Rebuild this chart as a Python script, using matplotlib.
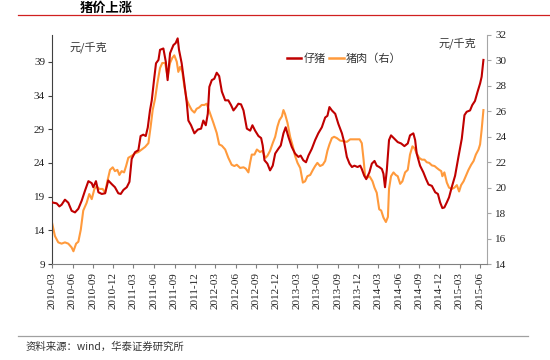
import matplotlib
matplotlib.use("Agg")
import matplotlib.pyplot as plt
import matplotlib.dates as mdates
from matplotlib.lines import Line2D
import pandas as pd

plt.rcParams['font.family'] = ['Liberation Serif', 'Noto Sans CJK SC', 'DejaVu Sans']
CJK = ['Noto Sans CJK SC', 'DejaVu Sans']

title = "猪价上涨"
source = "资料来源：wind，华泰证券研究所"
unit = "元/千克"
piglet_name = "仔猪"
pork_name = "猪肉（右）"

piglet_dates = [
    "2010-03-01", "2010-03-22", "2010-04-03", "2010-04-13", "2010-04-28", "2010-05-13", "2010-05-28",
    "2010-06-12", "2010-06-27", "2010-07-12", "2010-07-27", "2010-08-11", "2010-08-26", "2010-09-02",
    "2010-09-14", "2010-09-25", "2010-10-10", "2010-10-25", "2010-11-08", "2010-11-24", "2010-12-08",
    "2010-12-23", "2011-01-03", "2011-01-15", "2011-01-30", "2011-02-11", "2011-02-21", "2011-03-08",
    "2011-03-23", "2011-04-02", "2011-04-14", "2011-04-25", "2011-05-04", "2011-05-14", "2011-05-22",
    "2011-06-01", "2011-06-10", "2011-06-21", "2011-06-28", "2011-07-13", "2011-07-24", "2011-08-01",
    "2011-08-12", "2011-08-27", "2011-09-06", "2011-09-15", "2011-09-21", "2011-10-03", "2011-10-15",
    "2011-10-26", "2011-11-02", "2011-11-14", "2011-11-29", "2011-12-14", "2011-12-29", "2012-01-08",
    "2012-01-19", "2012-01-28", "2012-02-04", "2012-02-15", "2012-02-26", "2012-03-08", "2012-03-19",
    "2012-03-31", "2012-04-15", "2012-04-29", "2012-05-11", "2012-05-22", "2012-06-03", "2012-06-13",
    "2012-06-25", "2012-07-06", "2012-07-21", "2012-08-05", "2012-08-15", "2012-08-27", "2012-09-11",
    "2012-09-23", "2012-09-30", "2012-10-08", "2012-10-21", "2012-11-02", "2012-11-14", "2012-11-25",
    "2012-12-09", "2012-12-20", "2013-01-01", "2013-01-11", "2013-01-23", "2013-02-07", "2013-02-22",
    "2013-03-09", "2013-03-19", "2013-03-31", "2013-04-12", "2013-04-23", "2013-05-08", "2013-05-23",
    "2013-06-06", "2013-06-22", "2013-07-07", "2013-07-17", "2013-07-26", "2013-08-06", "2013-08-21",
    "2013-09-04", "2013-09-20", "2013-09-30", "2013-10-12", "2013-10-24", "2013-11-04", "2013-11-15",
    "2013-11-29", "2013-12-11", "2013-12-18", "2013-12-29", "2014-01-07", "2014-01-21", "2014-02-01",
    "2014-02-13", "2014-02-23", "2014-03-06", "2014-03-18", "2014-03-25", "2014-04-01", "2014-04-09",
    "2014-04-19", "2014-04-28", "2014-05-13", "2014-05-28", "2014-06-12", "2014-06-27", "2014-07-12",
    "2014-07-22", "2014-08-06", "2014-08-14", "2014-08-21", "2014-09-05", "2014-09-20", "2014-10-02",
    "2014-10-13", "2014-10-28", "2014-11-12", "2014-11-24", "2014-12-04", "2014-12-14", "2014-12-23",
    "2015-01-03", "2015-01-13", "2015-01-25", "2015-02-09", "2015-02-24", "2015-03-11", "2015-03-23",
    "2015-04-02", "2015-04-17", "2015-04-27", "2015-05-09", "2015-05-21", "2015-06-01", "2015-06-08",
    "2015-06-16",
]
piglet_values = [
    18.15, 18.0, 17.55, 17.8, 18.55, 18.1, 16.9,
    16.66, 17.2, 18.4, 19.9, 21.3, 21.0, 20.4,
    21.3, 19.65, 19.4, 19.5, 21.4, 20.85, 20.4,
    19.5, 19.4, 20.0, 20.4, 21.2, 24.6, 25.6,
    25.9, 28.0, 28.2, 28.0, 29.25, 31.8, 33.3,
    36.3, 38.8, 39.3, 40.8, 41.0, 39.0, 36.3,
    40.3, 41.5, 41.8, 42.5, 40.8, 38.8, 35.8,
    32.9, 30.3, 29.6, 28.4, 28.95, 29.1, 30.3,
    29.6, 31.3, 35.3, 36.3, 36.5, 37.4, 36.9,
    34.6, 33.3, 33.3, 32.6, 31.8, 32.3, 32.8,
    32.7, 31.8, 29.1, 28.8, 29.6, 28.8, 28.0,
    27.7, 26.6, 24.4, 23.9, 22.9, 23.6, 25.4,
    26.1, 26.6, 28.4, 29.3, 27.9, 26.4, 25.4,
    24.9, 25.1, 24.4, 24.1, 25.1, 26.1, 27.4,
    28.4, 29.3, 30.75, 31.0, 32.3, 31.8, 31.3,
    29.8, 28.4, 27.1, 24.9, 23.9, 23.4, 23.6,
    23.4, 23.6, 23.1, 22.1, 21.6, 22.6, 23.9,
    24.3, 23.6, 23.4, 23.1, 22.4, 20.4, 22.9,
    27.4, 28.1, 27.6, 27.1, 26.9, 26.5, 26.9,
    28.1, 28.4, 27.4, 25.4, 23.6, 22.6, 21.6,
    20.8, 20.6, 19.65, 19.4, 18.15, 17.3, 17.4,
    18.15, 18.9, 20.4, 22.1, 24.9, 27.6, 31.1,
    31.6, 31.8, 32.6, 33.2, 34.6, 35.8, 36.8,
    39.3,
]

pork_dates = [
    "2010-03-01", "2010-03-14", "2010-03-29", "2010-04-13", "2010-04-28", "2010-05-13", "2010-05-28",
    "2010-06-05", "2010-06-17", "2010-06-27", "2010-07-08", "2010-07-19", "2010-08-03", "2010-08-15",
    "2010-08-26", "2010-09-07", "2010-09-17", "2010-09-29", "2010-10-14", "2010-10-25", "2010-11-04",
    "2010-11-16", "2010-11-28", "2010-12-08", "2010-12-19", "2010-12-28", "2011-01-07", "2011-01-18",
    "2011-01-27", "2011-02-06", "2011-02-21", "2011-03-08", "2011-03-23", "2011-04-07", "2011-04-22",
    "2011-05-07", "2011-05-17", "2011-05-26", "2011-06-06", "2011-06-16", "2011-06-28", "2011-07-08",
    "2011-07-21", "2011-08-01", "2011-08-12", "2011-08-22", "2011-08-31", "2011-09-11", "2011-09-18",
    "2011-09-26", "2011-10-06", "2011-10-15", "2011-10-26", "2011-11-05", "2011-11-17", "2011-11-29",
    "2011-12-09", "2011-12-20", "2012-01-01", "2012-01-13", "2012-01-23", "2012-01-31", "2012-02-12",
    "2012-02-22", "2012-03-08", "2012-03-19", "2012-03-31", "2012-04-15", "2012-04-29", "2012-05-14",
    "2012-05-26", "2012-06-06", "2012-06-21", "2012-07-06", "2012-07-16", "2012-07-28", "2012-08-05",
    "2012-08-12", "2012-08-24", "2012-09-04", "2012-09-18", "2012-09-29", "2012-10-08", "2012-10-13",
    "2012-10-21", "2012-11-02", "2012-11-14", "2012-11-25", "2012-12-05", "2012-12-14", "2012-12-25",
    "2013-01-01", "2013-01-08", "2013-01-19", "2013-01-31", "2013-02-12", "2013-02-22", "2013-03-05",
    "2013-03-17", "2013-03-29", "2013-04-08", "2013-04-18", "2013-05-01", "2013-05-13", "2013-05-23",
    "2013-06-02", "2013-06-14", "2013-06-26", "2013-07-07", "2013-07-17", "2013-07-26", "2013-08-06",
    "2013-08-16", "2013-08-28", "2013-09-12", "2013-09-27", "2013-10-12", "2013-10-27", "2013-11-11",
    "2013-11-26", "2013-12-08", "2013-12-18", "2013-12-26", "2014-01-02", "2014-01-13", "2014-01-21",
    "2014-01-25", "2014-02-04", "2014-02-13", "2014-02-23", "2014-03-06", "2014-03-15", "2014-03-25",
    "2014-04-05", "2014-04-14", "2014-04-19", "2014-04-28", "2014-05-09", "2014-05-19", "2014-05-28",
    "2014-06-08", "2014-06-18", "2014-06-30", "2014-07-12", "2014-07-22", "2014-08-02", "2014-08-11",
    "2014-08-21", "2014-09-01", "2014-09-13", "2014-09-25", "2014-10-05", "2014-10-16", "2014-10-28",
    "2014-11-09", "2014-11-19", "2014-11-30", "2014-12-09", "2014-12-14", "2014-12-23", "2015-01-03",
    "2015-01-13", "2015-01-25", "2015-02-06", "2015-02-17", "2015-02-27", "2015-03-08", "2015-03-19",
    "2015-03-29", "2015-04-10", "2015-04-22", "2015-05-03", "2015-05-13", "2015-05-25", "2015-06-01",
    "2015-06-08", "2015-06-16",
]
pork_values = [
    17.26, 16.2, 15.7, 15.6, 15.7, 15.6, 15.3,
    15.0, 15.6, 15.75, 16.7, 18.2, 18.8, 19.5,
    19.1, 19.9, 20.1, 19.9, 19.9, 19.6, 20.5,
    21.4, 21.6, 21.3, 21.4, 21.0, 21.3, 21.2,
    21.7, 22.35, 22.5, 22.7, 22.8, 23.0, 23.2,
    23.5, 24.8, 26.1, 27.0, 28.2, 29.4, 29.8,
    29.8, 28.7, 29.8, 30.2, 30.4, 29.9, 29.1,
    29.5, 29.1, 27.95, 26.9, 26.5, 26.1, 25.9,
    26.2, 26.3, 26.5, 26.5, 26.6, 26.2, 25.6,
    25.1, 24.3, 23.4, 23.3, 23.0, 22.35, 21.8,
    21.7, 21.8, 21.55, 21.6, 21.5, 21.2, 22.0,
    22.6, 22.6, 23.0, 22.8, 22.9, 22.5, 22.35,
    22.5, 22.9, 23.5, 24.0, 24.8, 25.3, 25.6,
    26.1, 25.8, 25.1, 24.0, 23.25, 22.5, 21.95,
    21.55, 20.4, 20.5, 20.9, 21.0, 21.4, 21.7,
    21.95, 21.7, 21.8, 22.1, 22.9, 23.4, 23.9,
    24.0, 23.9, 23.7, 23.65, 23.6, 23.8, 23.8,
    23.8, 23.8, 23.5, 22.2, 20.9, 20.8, 20.9,
    20.8, 20.5, 20.0, 19.6, 18.3, 18.2, 17.65,
    17.3, 17.7, 19.9, 20.9, 21.2, 21.0, 20.9,
    20.3, 20.5, 21.2, 21.4, 22.6, 23.25, 23.1,
    22.7, 22.35, 22.2, 22.2, 22.0, 21.95, 21.75,
    21.7, 21.55, 21.4, 21.3, 20.9, 21.2, 20.4,
    20.0, 19.9, 20.0, 20.2, 19.7, 20.2, 20.5,
    20.9, 21.4, 21.8, 22.1, 22.6, 23.0, 23.4,
    24.55, 26.1,
]

left_ticks = [9, 14, 19, 24, 29, 34, 39]
right_ticks = [14, 16, 18, 20, 22, 24, 26, 28, 30, 32]

RED = '#C00000'
ORANGE = '#FF9A3C'

fig = plt.figure(figsize=(5.5, 3.6), dpi=100)
ax = fig.add_axes([52/550, 1-264/360, (487-52)/550, (264-35)/360])
ax2 = ax.twinx()

pd_p = pd.to_datetime(piglet_dates)
pd_k = pd.to_datetime(pork_dates)
ax.plot(pd_p, piglet_values, color=RED, lw=1.5, zorder=3)
ax2.plot(pd_k, pork_values, color=ORANGE, lw=1.5, zorder=2)
ax.set_zorder(ax2.get_zorder() + 1)
ax.patch.set_visible(False)

ax.set_ylim(9, 43)
ax.set_yticks(left_ticks)
ax2.set_ylim(14, 32)
ax2.set_yticks(right_ticks)
ax.set_xlim(pd.Timestamp("2010-03-01"), pd.Timestamp("2015-07-02"))
ax.xaxis.set_major_locator(mdates.MonthLocator(bymonth=[3, 6, 9, 12]))
ax.xaxis.set_major_formatter(mdates.DateFormatter('%Y-%m'))

for a in (ax, ax2):
    a.spines['top'].set_visible(False)
ax.spines['right'].set_visible(False)
ax2.spines['left'].set_visible(False)
ax2.spines['bottom'].set_visible(False)
ax.spines['left'].set_color('#404040')
ax.spines['bottom'].set_color('#808080')
ax2.spines['right'].set_color('#A6A6A6')

ax.tick_params(axis='y', direction='out', length=3, colors='#404040', labelsize=8, labelcolor='#222222', pad=2)
ax.tick_params(axis='x', direction='out', length=3, colors='#808080', labelsize=8, labelcolor='#222222',
               rotation=90, pad=3)
ax2.tick_params(axis='y', direction='out', length=3, colors='#A6A6A6', labelsize=8, labelcolor='#222222', pad=3)

ax.text(0.04, 0.945, unit, transform=ax.transAxes, fontsize=8, family=CJK, color='#333333', va='center', ha='left')
ax.text(0.975, 0.965, unit, transform=ax.transAxes, fontsize=8, family=CJK, color='#333333', va='center', ha='right')

handles = [Line2D([], [], color=RED, lw=1.8), Line2D([], [], color=ORANGE, lw=1.8)]
leg = ax.legend(handles, [piglet_name, pork_name], loc='center left', bbox_to_anchor=(0.54, 0.895),
                ncol=2, frameon=False, handlelength=1.3, handletextpad=0.2, columnspacing=0.3,
                prop={'family': CJK, 'size': 8}, borderaxespad=0, borderpad=0)
for t in leg.get_texts():
    t.set_color('#333333')

fig.text(80/550, 1-8/360, title, fontsize=9.5, fontweight='bold', family=CJK, va='center', ha='left')
fig.add_artist(Line2D([18/550, 1.0], [1-15/360, 1-15/360], color='#D02020', lw=0.9))
fig.add_artist(Line2D([18/550, 528/550], [1-336/360, 1-336/360], color='#A0A0A0', lw=0.9))
fig.text(26/550, 1-347/360, source, fontsize=7.5, style='italic', family=CJK, va='center', ha='left',
         color='#333333')

fig.savefig('out.png', dpi=100)
